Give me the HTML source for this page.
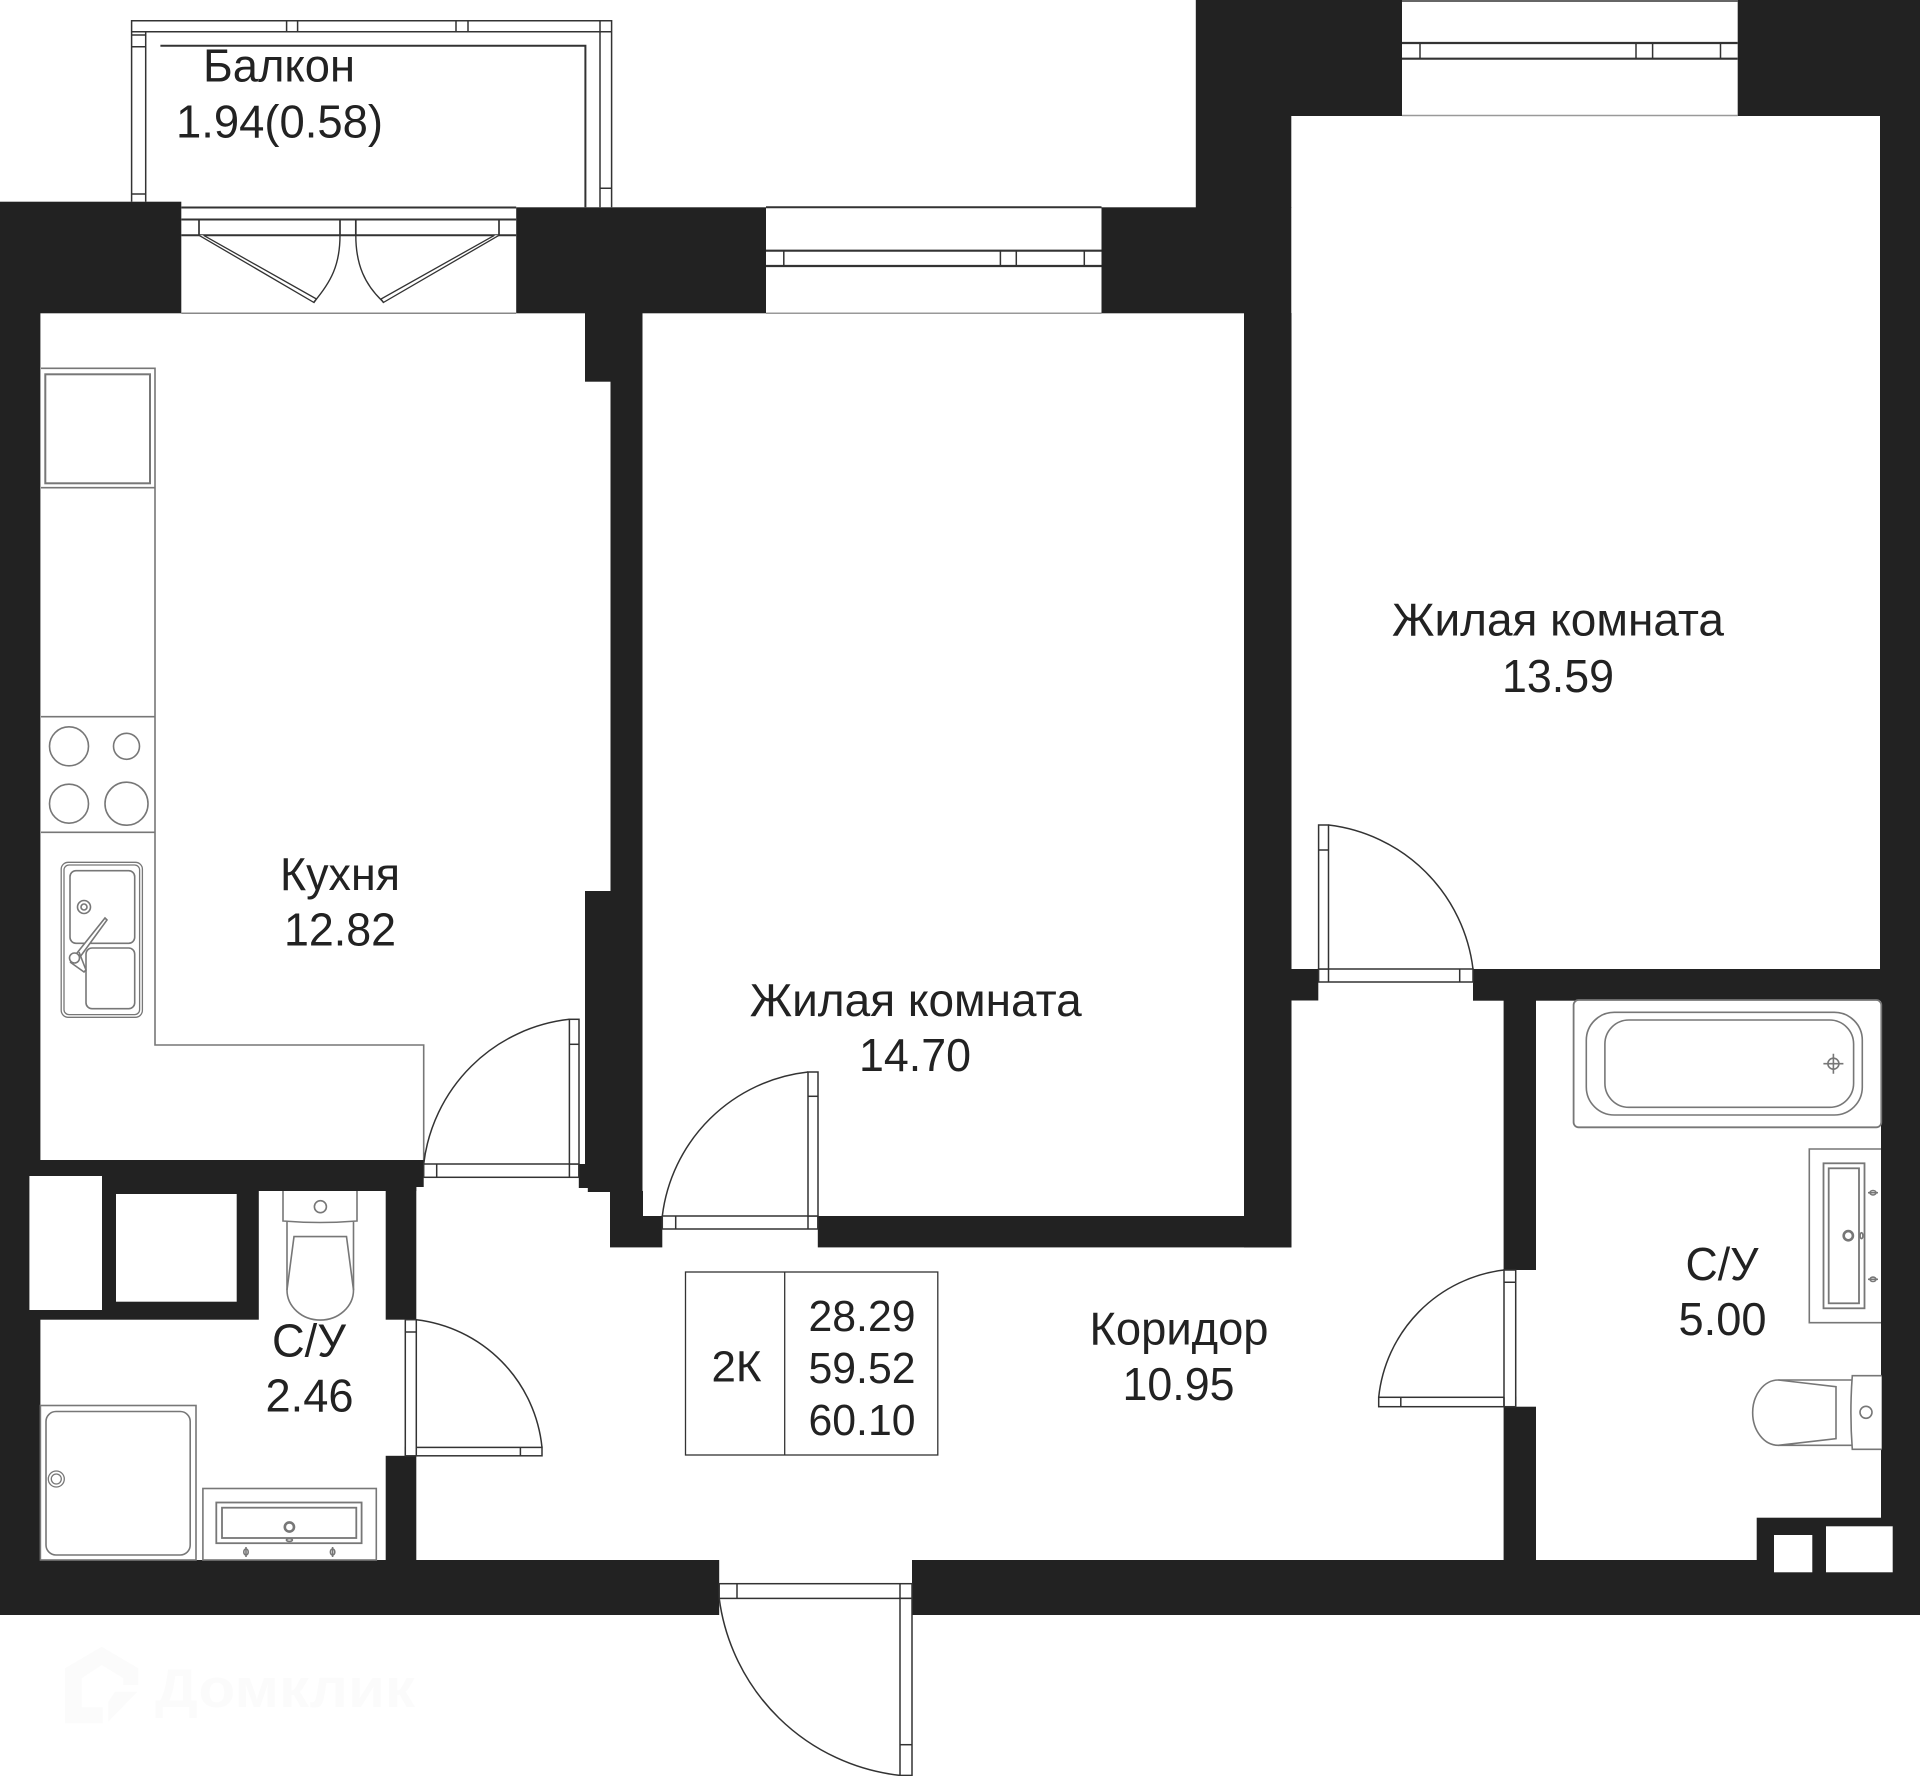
<!DOCTYPE html>
<html><head><meta charset="utf-8"><style>
html,body{margin:0;padding:0;background:#fff}
svg{display:block}
text{font-family:"Liberation Sans",Arial,sans-serif;fill:#222;text-anchor:middle}
.d{fill:none;stroke:#333;stroke-width:1.5}
.dw{fill:#fff;stroke:#333;stroke-width:1.5}
.f{fill:none;stroke:#777;stroke-width:1.6}
.fw{fill:#fff;stroke:#777;stroke-width:1.6}
</style></head><body>
<svg xmlns="http://www.w3.org/2000/svg" width="1920" height="1776" viewBox="0 0 1920 1776">
<rect width="1920" height="1776" fill="#fff"/>
<!-- walls -->
<g fill="#222">
<rect x="0" y="201.7" width="181.3" height="111.6"/>
<rect x="516.2" y="207.3" width="249.8" height="106"/>
<rect x="1101.5" y="207.3" width="189.8" height="106"/>
<rect x="1195.8" y="0" width="206.2" height="116"/>
<rect x="1737.7" y="0" width="182.3" height="116"/>
<rect x="1195.8" y="116" width="95.5" height="92"/>
<rect x="1880" y="116" width="40" height="885"/>
<rect x="1244" y="313" width="47.5" height="934.4"/>
<rect x="817.8" y="1216" width="473.5" height="31.4"/>
<rect x="610.5" y="313" width="32" height="903"/>
<rect x="585" y="313" width="26" height="68.7"/>
<rect x="585" y="891" width="26" height="273"/>
<rect x="578.8" y="1164" width="32" height="24"/>
<rect x="587.8" y="1188" width="23" height="4"/>
<rect x="610" y="1191" width="33" height="30"/>
<rect x="610" y="1216" width="52.3" height="31.4"/>
<rect x="0" y="313" width="40.4" height="1302"/>
<rect x="0" y="1160" width="423.7" height="27"/>
<rect x="0" y="1160" width="416.3" height="31"/>
<rect x="0" y="1160" width="258.8" height="159.7"/>
<rect x="385.7" y="1160" width="30.6" height="159.7"/>
<rect x="385.7" y="1455.8" width="30.6" height="104.5"/>
<rect x="0" y="1560" width="719.2" height="55"/>
<rect x="912" y="1560" width="1008" height="55"/>
<rect x="1881" y="1000" width="39" height="615"/>
<rect x="1244" y="969" width="74.3" height="31.5"/>
<rect x="1473" y="969" width="447" height="31.7"/>
<rect x="1503.6" y="1000" width="32.4" height="270"/>
<rect x="1503.6" y="1406.7" width="32.4" height="153.5"/>
<rect x="1756.7" y="1517.7" width="124.5" height="43"/>
</g>
<!-- holes -->
<g fill="#fff">
<rect x="29.4" y="1176" width="72.6" height="134"/>
<rect x="116" y="1194" width="120.7" height="107.7"/>
<rect x="1774" y="1535" width="38.3" height="37.3"/>
<rect x="1826" y="1526.3" width="66.7" height="46"/>
</g>
<!-- balcony -->
<g class="d">
<path d="M131.6 201.7V20.7H611.6V207.3"/>
<path d="M145.7 201.7V31.7H600V207.3"/>
<path d="M131.6 31.7H145.7M286.6 20.7V31.7M297.6 20.7V31.7M456 20.7V31.7M468 20.7V31.7M600 20.7V31.7H611.6"/>
<path d="M131.6 35H145.7M131.6 46.7H145.7M131.6 194H145.7M600 188.3H611.6"/>
<path d="M160.4 45.7H585.4V207.3" stroke-width="2"/>
</g>
<!-- balcony door -->
<g class="d">
<path d="M181.3 207.5H516.2" stroke-width="2"/>
<path d="M181.3 219.5H516.2" stroke-width="2"/>
<path d="M181.3 235.3H516.2" stroke-width="2"/>
<path d="M199 219.5V235.3M340 219.5V235.3M355.8 219.5V235.3M499 219.5V235.3" stroke-width="1.7"/>
<path d="M199 235.3L314 302.5L316.5 299L203.5 235.3" stroke-width="1.3" fill="#fff"/>
<path d="M499 235.3L383.3 302.5L381 299L494.5 235.3" stroke-width="1.3" fill="#fff"/>
<path d="M340 235.3C340 265 331 282 314 302M355.8 235.3C355.8 265 365 285 383.3 302" stroke-width="1.4"/>
</g>
<path d="M181.3 313.3H516.2" stroke="#888" stroke-width="1.5"/>
<!-- windows -->
<g class="d">
<path d="M766 207.3H1101.5" stroke-width="2"/>
<path d="M766 250.7H1101.5" stroke-width="2.2"/>
<path d="M766 266H1101.5" stroke-width="2.2"/>
<path d="M783.8 250.7V266M1000.4 250.7V266M1016.3 250.7V266M1084.3 250.7V266"/>
<path d="M1402 1H1737.7" stroke-width="1.5"/>
<path d="M1402 43H1737.7" stroke-width="2.2"/>
<path d="M1402 58.7H1737.7" stroke-width="2.2"/>
<path d="M1420 43V58.7M1636 43V58.7M1652.6 43V58.7M1720.5 43V58.7"/>
</g>
<path d="M766 313.3H1101.5M1402 115.5H1737.7" stroke="#999" stroke-width="1.5"/>
<!-- kitchen counter -->
<g class="f">
<path d="M41 368.3H155V1045H423.7V1160"/>
<path d="M41 487.7H155"/>
<rect x="45.3" y="374.3" width="104.7" height="109" stroke-width="2"/>
<path d="M41 716.7H155M41 832.3H155"/>
<circle cx="69" cy="746.3" r="19.5"/>
<circle cx="126.5" cy="746.3" r="13"/>
<circle cx="69" cy="803.7" r="19.5"/>
<circle cx="126.5" cy="803.7" r="21.5"/>
<rect x="61.2" y="862.3" width="81.2" height="155" rx="7" stroke-width="1.3"/>
<rect x="64" y="865" width="75.6" height="149.6" rx="5" stroke-width="1.3"/>
<rect x="70" y="870.7" width="64.7" height="72.6" rx="6"/>
<rect x="86" y="948" width="48.7" height="60.7" rx="6"/>
<circle cx="84" cy="907" r="6.5"/>
<circle cx="84" cy="907" r="3"/>
<path d="M77 953L105 918L107 920L80 957Z" fill="#fff"/>
<path d="M70 962L84 972L86 970L79 952" fill="#fff"/>
<circle cx="74.5" cy="958" r="5" fill="#fff"/>
</g>
<!-- toilet 1 -->
<g class="f">
<path d="M283 1191V1221Q320 1224 357 1221V1191"/>
<circle cx="320.4" cy="1206.7" r="6"/>
<path d="M287 1222V1290A33.2 30 0 0 0 353.5 1290V1222"/>
<path d="M287 1290L294 1236.6H346.5L353.5 1290"/>
<!-- shower -->
<rect x="40.4" y="1405.5" width="155.6" height="154.5"/>
<rect x="46" y="1411.5" width="144.2" height="143.5" rx="10"/>
<circle cx="56.3" cy="1479" r="8" stroke-width="1.3"/>
<circle cx="56.3" cy="1479" r="5" stroke-width="1.3"/>
<!-- sink -->
<rect x="202.9" y="1488.5" width="173.4" height="71.5"/>
<rect x="216.3" y="1502.5" width="145.3" height="40.7" stroke-width="1.8"/>
<rect x="222" y="1507.7" width="134.3" height="30.3" stroke-width="1.8"/>
<circle cx="289.4" cy="1527" r="4.6" stroke-width="2.6"/>
<ellipse cx="289.4" cy="1540" rx="3" ry="1.4"/>
<ellipse cx="246" cy="1552" rx="2.2" ry="3"/><path d="M246 1547V1557"/>
<ellipse cx="332.6" cy="1552" rx="2.2" ry="3"/><path d="M332.6 1547V1557"/>
<!-- bath -->
<rect x="1573.6" y="1000" width="307.7" height="127.3" rx="5" fill="#fff" stroke-width="1.8"/>
<rect x="1586.3" y="1012.3" width="276" height="102.7" rx="28"/>
<rect x="1604.9" y="1020" width="248.7" height="87.3" rx="24"/>
<circle cx="1833.4" cy="1063.7" r="5.5"/>
<path d="M1823.4 1063.7H1843.4M1833.4 1053.7V1073.7"/>
<!-- right sink -->
<path d="M1881 1149H1809.3V1322.7H1881"/>
<rect x="1823.5" y="1163.3" width="41" height="145" stroke-width="1.8"/>
<rect x="1828.7" y="1168.3" width="30.3" height="135" stroke-width="1.8"/>
<circle cx="1848.3" cy="1235.7" r="4.6" stroke-width="2.6"/>
<ellipse cx="1861.5" cy="1235.7" rx="1.4" ry="3"/>
<ellipse cx="1873" cy="1192.7" rx="3" ry="2.2"/><path d="M1868 1192.7H1878"/>
<ellipse cx="1873" cy="1279.3" rx="3" ry="2.2"/><path d="M1868 1279.3H1878"/>
<!-- right toilet -->
<path d="M1881.7 1375.7H1852.3Q1849.5 1412.5 1852.3 1449.3H1881.7" fill="#fff"/>
<circle cx="1866" cy="1412.3" r="6"/>
<path d="M1851.5 1380H1778.3A25.6 32.6 0 0 0 1778.3 1445.3H1851.5"/>
<path d="M1778.3 1380L1836 1386.7V1438.7L1778.3 1445.3"/>
</g>
<!-- doors -->
<g class="d">
<!-- kitchen -->
<rect x="423.7" y="1164" width="155.1" height="13.3" class="dw"/>
<path d="M436.7 1164V1177.3M569.4 1164V1177.3"/>
<rect x="569.4" y="1019.3" width="9.6" height="144.7" class="dw"/>
<path d="M569.4 1044.3H579"/>
<path d="M569.4 1019.3A165 165 0 0 0 423.7 1164"/>
<!-- middle room -->
<rect x="662.3" y="1216" width="155.5" height="13" class="dw"/>
<path d="M675.7 1216V1229M808 1216V1229"/>
<rect x="808" y="1072" width="10" height="144" class="dw"/>
<path d="M808 1096.3H818"/>
<path d="M808 1072A165 165 0 0 0 662.3 1216"/>
<!-- right room -->
<rect x="1318.6" y="969" width="154.4" height="13" class="dw"/>
<path d="M1328.5 969V982M1459.7 969V982"/>
<rect x="1318.6" y="825" width="9.9" height="144" class="dw"/>
<path d="M1318.6 850H1328.5"/>
<path d="M1328.5 825A165 165 0 0 1 1473 969"/>
<!-- bath -->
<rect x="1378.7" y="1397.3" width="137" height="9.4" class="dw"/>
<path d="M1400.8 1397.3V1406.7"/>
<rect x="1504" y="1270" width="11.7" height="136.7" class="dw"/>
<path d="M1504 1282.3H1515.7M1504 1397.3V1406.7"/>
<path d="M1504 1270A143 143 0 0 0 1378.7 1397.3"/>
<!-- wc -->
<rect x="405.3" y="1447.4" width="136.7" height="8.4" class="dw"/>
<path d="M415.5 1447.4V1455.8M520.4 1447.4V1455.8"/>
<rect x="405.3" y="1319.7" width="11" height="136.1" class="dw"/>
<path d="M405.3 1332H416.3"/>
<path d="M416.3 1319.7A143 143 0 0 1 542 1447.4"/>
<!-- entry -->
<rect x="719.2" y="1583.7" width="192.8" height="14.7" class="dw"/>
<path d="M737 1583.7V1598.4M900 1583.7V1598.4"/>
<rect x="900" y="1598.4" width="12" height="177" class="dw"/>
<path d="M900 1744.7H912"/>
<path d="M719.2 1598.4A205 205 0 0 0 900 1775.4"/>
</g>
<!-- table -->
<g fill="none" stroke="#333" stroke-width="1.3">
<rect x="685.5" y="1272" width="252.3" height="183"/>
<path d="M784.7 1272V1455"/>
</g>
<!-- labels -->
<g font-size="46">
<text x="279" y="81.7" textLength="152" lengthAdjust="spacingAndGlyphs">Балкон</text>
<text x="279.5" y="137.3" textLength="207" lengthAdjust="spacingAndGlyphs">1.94(0.58)</text>
<text x="340" y="890" textLength="120" lengthAdjust="spacingAndGlyphs">Кухня</text>
<text x="340" y="945.7" textLength="112" lengthAdjust="spacingAndGlyphs">12.82</text>
<text x="309" y="1356.4" textLength="74" lengthAdjust="spacingAndGlyphs">С/У</text>
<text x="309.5" y="1411.5" textLength="88" lengthAdjust="spacingAndGlyphs">2.46</text>
<text x="915.7" y="1015.8" textLength="332" lengthAdjust="spacingAndGlyphs">Жилая комната</text>
<text x="915" y="1071" textLength="112" lengthAdjust="spacingAndGlyphs">14.70</text>
<text x="1179" y="1344.7" textLength="179" lengthAdjust="spacingAndGlyphs">Коридор</text>
<text x="1178.5" y="1400" textLength="112" lengthAdjust="spacingAndGlyphs">10.95</text>
<text x="1558" y="635.5" textLength="332" lengthAdjust="spacingAndGlyphs">Жилая комната</text>
<text x="1558" y="692" textLength="112" lengthAdjust="spacingAndGlyphs">13.59</text>
<text x="1722" y="1280" textLength="73" lengthAdjust="spacingAndGlyphs">С/У</text>
<text x="1722.5" y="1335" textLength="88" lengthAdjust="spacingAndGlyphs">5.00</text>
</g>
<g font-size="44">
<text x="862" y="1331" textLength="107" lengthAdjust="spacingAndGlyphs">28.29</text>
<text x="862" y="1383" textLength="107" lengthAdjust="spacingAndGlyphs">59.52</text>
<text x="862" y="1435" textLength="107" lengthAdjust="spacingAndGlyphs">60.10</text>
<text x="736.5" y="1381.6" textLength="50" lengthAdjust="spacingAndGlyphs">2К</text>
</g>
<!-- watermark -->
<path d="M101.7 1646.7L138.3 1668.3V1685H123.3V1678.3L101.7 1665L81.7 1678.3V1707.3H102.7V1723.3H65V1668.3ZM108.3 1721.7V1701.7L115 1691.7H137.3Z" fill="#fbfbfb"/>
<text x="285" y="1707" font-size="55" font-weight="bold" textLength="260" lengthAdjust="spacingAndGlyphs" style="fill:#fbfbfb">Домклик</text>
</svg>
</body></html>
